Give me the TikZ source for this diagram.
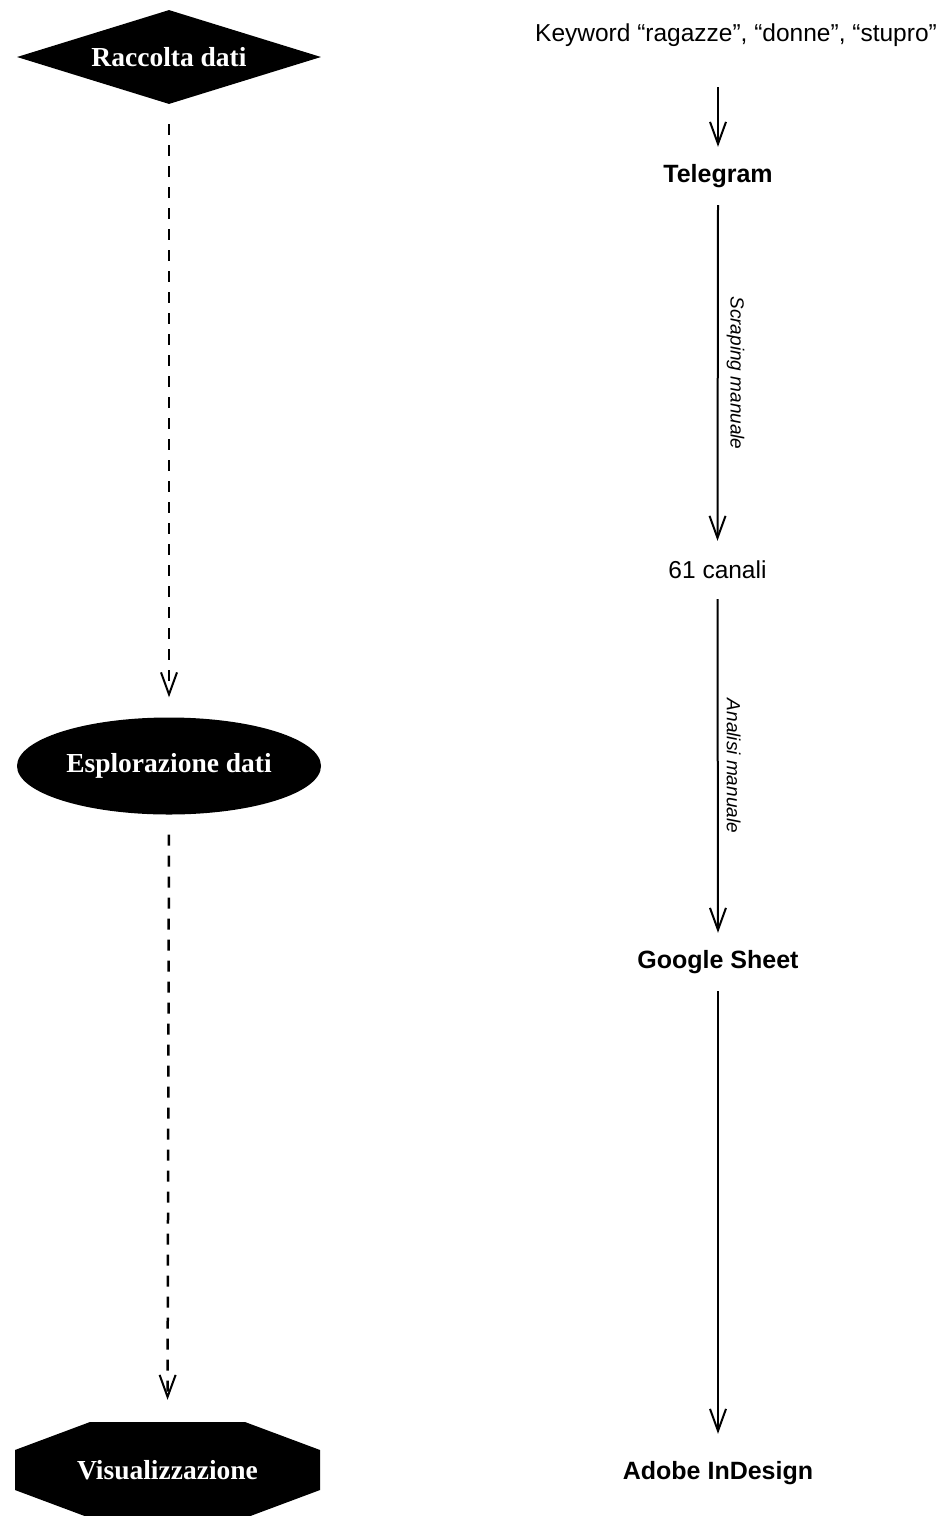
\documentclass[tikz,border=0pt]{standalone}
\usepackage{fontspec}
\setmainfont{Liberation Serif}
\newfontfamily\sansf{Liberation Sans}
\usetikzlibrary{arrows.meta,shapes.geometric}
\begin{document}
\begin{tikzpicture}[x=1pt,y=-1pt,
  phase/.style={fill=black, text=white, font=\bfseries\fontsize{27.5}{32}\selectfont, inner sep=0pt},
  tool/.style={font=\sansf\bfseries\fontsize{25}{30}\selectfont, minimum height=58pt, inner sep=0pt},
  plaintext/.style={font=\sansf\fontsize{24.5}{29}\selectfont, minimum height=58pt, inner sep=0pt},
  flow/.style={line width=2pt, -{Straight Barb[length=22pt,width=16pt,line width=2pt]}},
  dflow/.style={flow, line width=2.5pt, dash pattern=on 11pt off 10pt},
  lbl/.style={font=\sansf\itshape\fontsize{19}{22}\selectfont, rotate=-90, anchor=south, inner xsep=0pt, inner ysep=8pt, midway}
]
\useasboundingbox (0,0) rectangle (941,1516);

% left column
\node[phase, diamond, aspect=3.2, minimum width=304pt, minimum height=94pt] (raccolta) at (169,57) {Raccolta dati};
\node[phase, ellipse, minimum width=304pt, minimum height=97pt] (esplo) at (169,766) {Esplorazione dati};
\fill[black] (90,1422) -- (245,1422) -- (320,1450) -- (320,1490) -- (245,1518) -- (90,1518) -- (15,1490) -- (15,1450) -- cycle;
\node[phase, fill=none, minimum width=305pt, minimum height=96pt] (vis) at (167.5,1470) {Visualizzazione};

\draw[dflow, shorten <=20pt, shorten >=20pt] (raccolta.south) -- (esplo.north);
\draw[dflow, shorten <=20pt, shorten >=22pt] (esplo.south) -- (vis.north);

% right column
\node[plaintext] (kw) at (736,35) {Keyword “ragazze”, “donne”, “stupro”};
\node[tool] (tele) at (718,176) {Telegram};
\node[plaintext] (canali) at (717.5,570) {61 canali};
\node[tool] (google) at (718,962) {Google Sheet};
\node[tool] (adobe) at (718,1473) {Adobe InDesign};

\draw[flow, shorten <=23pt] (kw.south -| tele.north) -- (tele.north);
\draw[flow] (tele.south) -- (canali.north) node[lbl] {Scraping manuale};
\draw[flow] (canali.south) -- (google.north) node[lbl] {Analisi manuale};
\draw[flow, shorten >=10pt] (google.south) -- (adobe.north);
\end{tikzpicture}
\end{document}
